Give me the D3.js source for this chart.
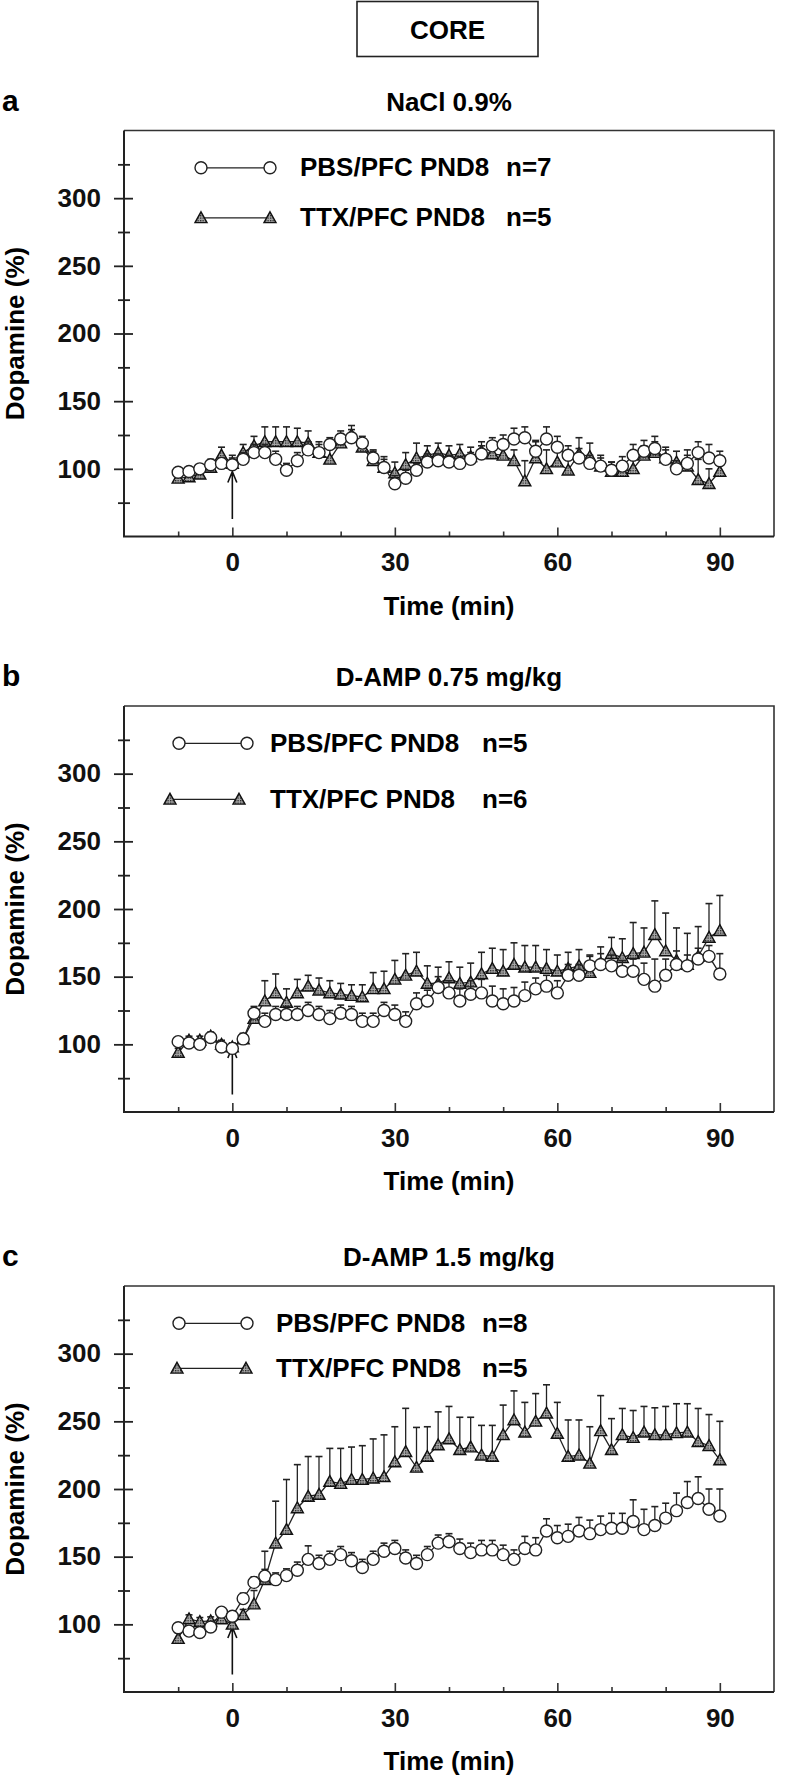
<!DOCTYPE html>
<html><head><meta charset="utf-8">
<script src="https://cdn.jsdelivr.net/npm/d3@7"></script>
<style>body{margin:0;background:#fff}</style>
</head><body>
<svg id="chart" width="785" height="1778"></svg>
<script>
// ---------- data ----------
const times = [-10,-8,-6,-4,-2,0,2,4,6,8,10,12,14,16,18,20,22,24,26,28,30,32,34,36,38,40,42,44,46,48,50,52,54,56,58,60,62,64,66,68,70,72,74,76,78,80,82,84,86,88,90];

// Panel a: NaCl 0.9%
const pbsA = [97.5,98,100,103,104,103,107,112,112,107,99,106,114,112,118,122,123,119,108,101,89,93,99,105,106,105,104,107,111,117,118,122,123,113,122,116,110,108,104,102,99,102,110,113,115,107,100,104,112,108,106];
const pbsAErr = [3,3,3,4,4,5,5,6,6,6,5,6,6,6,5,6,6,5,6,6,6,6,5,6,5,5,5,5,6,6,7,8,8,8,9,8,7,7,6,6,6,7,8,8,9,7,6,6,8,10,7];
const ttxA = [93,94,96,101,110,104,112,117,120,120,120,120,119,112,107,119,125,116,106,101,97,103,108,110,112,110,111,109,113,111,110,106,91,108,100,105,99,111,109,102,98,98,100,110,112,108,105,102,92,89,98];
const ttxAErr = [3,3,3,5,6,6,6,7,11,11,11,10,9,8,8,7,7,6,7,8,8,9,11,7,7,7,7,7,7,7,7,8,15,12,14,10,12,12,10,8,7,7,8,7,8,8,8,12,15,11,6];

// Panel b: D-AMP 0.75 mg/kg
const pbsB = [102,101,100,105,98,97,104,123,117,122,122,122,125,122,119,123,122,117,117,125,122,117,130,132,142,138,132,137,138,132,130,132,136,141,143,138,151,151,158,159,158,154,154,148,143,151,159,158,163,165,152];
const pbsBErr = [3,3,3,3,3,3,4,5,6,6,6,6,6,6,6,6,6,6,6,6,7,7,8,8,8,9,9,10,10,11,11,10,10,8,8,9,8,8,8,8,8,8,9,12,20,12,10,8,8,8,15];
const ttxB = [94,103,103,106,100,98,104,119,132,138,131,138,143,140,138,137,136,135,141,141,148,151,154,145,145,149,145,146,152,156,154,159,157,157,156,154,156,158,153,160,167,164,167,168,181,169,162,159,165,179,184];
const ttxBErr = [3,3,3,3,3,3,4,6,15,14,10,10,8,9,9,8,8,9,12,13,14,16,14,13,12,12,12,14,16,15,16,16,16,16,14,12,12,12,12,12,12,14,23,18,25,28,24,23,22,25,26];

// Panel c: D-AMP 1.5 mg/kg
const pbsC = [97.5,95,94,98,109,106,119,131,135.6,133,136,140,148,145,148,151.5,147,142,148,154,156,149,145,151.5,160,161,156,153,155,155,151.5,148,156,155,169,164,165,169,167,170,171,171,176,170,173,178.5,184,190,193,185,180];
const pbsCErr = [3,3,3,3,3,3,4,4,5,5,5,6,10,6,6,6,6,6,6,6,6,6,6,6,6,6,7,7,7,7,7,7,9,9,9,9,9,10,10,10,11,11,16,15,14,11,13,15.5,16,15,20];
const ttxC = [89.5,104,102,102.5,104,100,107,115,133,160,170,186,194.5,196,205.5,204,207,207,208,209,220,227.6,216,224,232.5,237,229,231,225,224,240,251,242,250,256,241,224,225,219,243,229,240,238,242,240,240,241.5,242,235,232,221.5];
const ttxCErr = [4,3,3,3,3,3,4,10,21,31,37,32,29.5,28,24.5,26,24,25,29,31,26,32,29.5,22,24.5,24,24,22,22,23,22,21.5,22,20.5,21,23,27,26,27,26,23,19.5,20,19,20,21,21.5,21,24.5,23,28.5];

const panelLetters = ["a","b","c"];
const panelTitles = ["NaCl 0.9%","D-AMP 0.75 mg/kg","D-AMP 1.5 mg/kg"];
const pbsNames = ["PBS/PFC PND8","PBS/PFC PND8","PBS/PFC PND8"];
const ttxNames = ["TTX/PFC PND8","TTX/PFC PND8","TTX/PFC PND8"];
const pbsN = ["n=7","n=5","n=8"];
const ttxN = ["n=5","n=6","n=5"];
const xMajorTicks = [0,30,60,90];
const xMinorTicks = [-10,10,20,40,50,70,80];
const yMajorTicks = [100,150,200,250,300];
const yMinorTicks = [75,125,175,225,275,325];
const xLabel = "Time (min)";
const yLabel = "Dopamine (%)";
const header = "CORE";
const injectionTime = 0;

const pbsSeries = [pbsA,pbsB,pbsC];
const pbsErrs = [pbsAErr,pbsBErr,pbsCErr];
const ttxSeries = [ttxA,ttxB,ttxC];
const ttxErrs = [ttxAErr,ttxBErr,ttxCErr];

// ---------- layout ----------
const FONT = '"Liberation Sans", Arial, Helvetica, sans-serif';
const FS = 26;
const layout = [
  {top:130.5, rowGap:50, symX:[201,270], triX:[201,270], textX:300, nX:506},
  {top:706,   rowGap:56, symX:[179,247], triX:[170,239], textX:270, nX:482},
  {top:1286,  rowGap:45, symX:[179,247], triX:[177,246], textX:276, nX:482}
];
const plotH = 406;
const svg = d3.select("#chart");
const x = d3.scaleLinear().domain([-20,100]).range([124,774]);

// header box
svg.append("rect").attr("x",357).attr("y",1.5).attr("width",181).attr("height",55)
  .attr("fill","#fff").attr("stroke","#222").attr("stroke-width",1.6);
svg.append("text").attr("x",447.5).attr("y",39).attr("text-anchor","middle")
  .attr("font-family",FONT).attr("font-weight","bold").attr("font-size",FS).text(header);

function triPath(cx, cy){
  const s = 6;
  return `M${cx},${cy-s}L${cx+s*1.0},${cy+s*0.8}L${cx-s*1.0},${cy+s*0.8}Z`;
}

// hatch pattern for triangles
const defs = svg.append("defs");
const pat = defs.append("pattern").attr("id","hatch").attr("width",2.5).attr("height",2.5)
  .attr("patternUnits","userSpaceOnUse");
pat.append("rect").attr("width",2.5).attr("height",2.5).attr("fill","#a8a8a8");
pat.append("rect").attr("width",1.3).attr("height",1.3).attr("fill","#222");

layout.forEach((L, p) => {
  const top = L.top, bottom = top + plotH;
  const y = d3.scaleLinear().domain([50,350]).range([bottom, top]);
  const g = svg.append("g");

  // frame top & right
  g.append("path").attr("d",`M${x(-20)},${top}H${x(100)}V${bottom}`)
    .attr("fill","none").attr("stroke","#333").attr("stroke-width",1.6);

  // y axis
  const yAxG = g.append("g").attr("transform",`translate(${x(-20)},0)`);
  yAxG.call(d3.axisLeft(y).tickValues(yMajorTicks).tickSizeInner(10).tickSizeOuter(0).tickPadding(13));
  yAxG.append("g").call(d3.axisRight(y).tickValues(yMajorTicks).tickSizeInner(9).tickSizeOuter(0).tickFormat(""));
  yAxG.append("g").call(d3.axisLeft(y).tickValues(yMinorTicks).tickSizeInner(6).tickSizeOuter(0).tickFormat(""));
  yAxG.append("g").call(d3.axisRight(y).tickValues(yMinorTicks).tickSizeInner(6).tickSizeOuter(0).tickFormat(""));
  yAxG.selectAll(".domain").remove();
  yAxG.selectAll("line").attr("stroke","#222").attr("stroke-width",1.8);
  yAxG.selectAll("text").attr("font-family",FONT).attr("font-weight","bold").attr("font-size",FS).attr("fill","#111");

  // x axis
  const xAxG = g.append("g").attr("transform",`translate(0,${bottom})`);
  xAxG.call(d3.axisBottom(x).tickValues(xMajorTicks).tickSizeInner(-9).tickSizeOuter(0).tickPadding(16.5));
  xAxG.append("g").call(d3.axisBottom(x).tickValues(xMinorTicks).tickSizeInner(-5).tickSizeOuter(0).tickFormat(""));
  xAxG.selectAll(".domain").remove();
  xAxG.selectAll("line").attr("stroke","#333").attr("stroke-width",1.6);
  xAxG.selectAll("text").attr("font-family",FONT).attr("font-weight","bold").attr("font-size",FS).attr("fill","#111");

  // axis lines
  g.append("path").attr("d",`M${x(-20)},${top}V${bottom}H${x(100)}`)
    .attr("fill","none").attr("stroke","#222").attr("stroke-width",2);

  // labels
  g.append("text").attr("x", x(40)).attr("y", bottom+78).attr("text-anchor","middle")
    .attr("font-family",FONT).attr("font-weight","bold").attr("font-size",FS).text(xLabel);
  g.append("text").attr("transform",`translate(24,${(top+bottom)/2}) rotate(-90)`).attr("text-anchor","middle")
    .attr("font-family",FONT).attr("font-weight","bold").attr("font-size",FS).text(yLabel);
  g.append("text").attr("x",2).attr("y",top-20)
    .attr("font-family",FONT).attr("font-weight","bold").attr("font-size",30).text(panelLetters[p]);
  g.append("text").attr("x",449).attr("y",top-20).attr("text-anchor","middle")
    .attr("font-family",FONT).attr("font-weight","bold").attr("font-size",FS).text(panelTitles[p]);

  // injection arrow
  const ax = x(injectionTime), ay0 = y(63), ay1 = y(98);
  g.append("path").attr("d",`M${ax},${ay0}V${ay1}M${ax-4.5},${ay1+11}L${ax},${ay1}L${ax+4.5},${ay1+11}`)
    .attr("fill","none").attr("stroke","#111").attr("stroke-width",1.6);

  const lineGen = d3.line().x((d,i)=>x(times[i])).y(d=>y(d));

  function drawSeries(vals, errs, kind){
    const sg = g.append("g");
    const eb = sg.selectAll(".eb").data(vals).join("g");
    eb.append("line").attr("x1",(d,i)=>x(times[i])).attr("x2",(d,i)=>x(times[i]))
      .attr("y1",d=>y(d)).attr("y2",(d,i)=>y(d+errs[i]))
      .attr("stroke","#222").attr("stroke-width",1.3);
    eb.append("line").attr("x1",(d,i)=>x(times[i])-3.5).attr("x2",(d,i)=>x(times[i])+3.5)
      .attr("y1",(d,i)=>y(d+errs[i])).attr("y2",(d,i)=>y(d+errs[i]))
      .attr("stroke","#222").attr("stroke-width",1.6);
    sg.append("path").datum(vals).attr("d",lineGen).attr("fill","none")
      .attr("stroke","#222").attr("stroke-width",1.3);
    if (kind === "circle") {
      sg.selectAll("circle").data(vals).join("circle")
        .attr("cx",(d,i)=>x(times[i])).attr("cy",d=>y(d)).attr("r",6)
        .attr("fill","#fff").attr("stroke","#222").attr("stroke-width",1.4);
    } else {
      sg.selectAll(".tri").data(vals).join("path")
        .attr("d",(d,i)=>triPath(x(times[i]), y(d)))
        .attr("fill","url(#hatch)").attr("stroke","#111").attr("stroke-width",1.4);
    }
  }
  drawSeries(ttxSeries[p], ttxErrs[p], "tri");
  drawSeries(pbsSeries[p], pbsErrs[p], "circle");

  // legend
  const r1 = top + 37.3, r2 = r1 + L.rowGap;
  g.append("line").attr("x1",L.symX[0]).attr("x2",L.symX[1]).attr("y1",r1).attr("y2",r1)
    .attr("stroke","#222").attr("stroke-width",1.3);
  [L.symX[0], L.symX[1]].forEach(cx => g.append("circle").attr("cx",cx).attr("cy",r1).attr("r",6)
    .attr("fill","#fff").attr("stroke","#222").attr("stroke-width",1.4));
  g.append("line").attr("x1",L.triX[0]).attr("x2",L.triX[1]).attr("y1",r2).attr("y2",r2)
    .attr("stroke","#222").attr("stroke-width",1.3);
  [L.triX[0], L.triX[1]].forEach(cx => g.append("path").attr("d",triPath(cx,r2))
    .attr("fill","url(#hatch)").attr("stroke","#111").attr("stroke-width",1.4));
  [[pbsNames[p], pbsN[p], r1],[ttxNames[p], ttxN[p], r2]].forEach(([nm, n, ry]) => {
    g.append("text").attr("x",L.textX).attr("y",ry+8.5)
      .attr("font-family",FONT).attr("font-weight","bold").attr("font-size",FS).text(nm);
    g.append("text").attr("x",L.nX).attr("y",ry+8.5)
      .attr("font-family",FONT).attr("font-weight","bold").attr("font-size",FS).text(n);
  });
});
</script>
</body></html>
